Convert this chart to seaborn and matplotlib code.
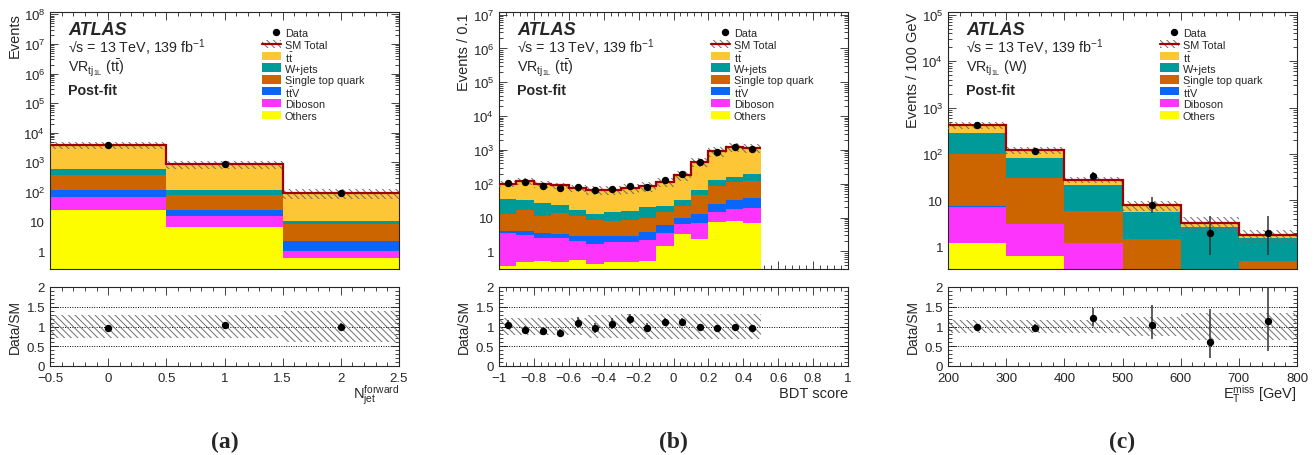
import numpy as np
import pandas as pd
import matplotlib
matplotlib.use("Agg")
import matplotlib.pyplot as plt
import seaborn as sns
from matplotlib.patches import Rectangle
from matplotlib.ticker import FixedLocator, MultipleLocator, LogLocator, NullFormatter, FuncFormatter

sns.set_style("ticks")
plt.rcParams['font.family'] = ['Liberation Sans', 'DejaVu Sans']
plt.rcParams['mathtext.fontset'] = 'custom'
plt.rcParams['mathtext.rm'] = 'Liberation Sans'
plt.rcParams['mathtext.it'] = 'Liberation Sans:italic'
plt.rcParams['mathtext.bf'] = 'Liberation Sans:bold'
plt.rcParams['hatch.linewidth'] = 0.7

# processes, top of the stack first
processes = ["ttbar", "W+jets", "Single top quark", "ttV", "Diboson", "Others"]
proc_labels = [r"$\mathrm{t\bar{t}}$", "W+jets", "Single top quark", r"$\mathrm{t\bar{t}V}$", "Diboson", "Others"]
proc_colors = ["#fdc636", "#009b98", "#cc6500", "#0a66fb", "#fd34fb", "#fdfd00"]

# (a) forward jet multiplicity
edges_a = [-0.5, 0.5, 1.5, 2.5]
ttbar_a = [3295, 729, 80.4]
wjets_a = [225, 39, 2.2]
stop_a = [262, 58, 6.2]
ttv_a = [51, 9.1, 1.15]
diboson_a = [42, 8.1, 0.47]
others_a = [25, 6.8, 0.58]
data_a = [3740, 875, 89]
unc_a = [0.28, 0.28, 0.38]

# (b) BDT score
edges_b = [-1.0, -0.9, -0.8, -0.7, -0.6, -0.5, -0.4, -0.3, -0.2, -0.1, 0.0, 0.1, 0.2, 0.3, 0.4, 0.5]
ttbar_b = [64, 88, 71, 65, 57, 53, 51, 57, 65, 93, 145, 380, 791, 1070, 952]
wjets_b = [23.4, 16, 15.7, 10.8, 6.2, 4.4, 7.3, 7.6, 10, 7.2, 11, 18, 41, 47, 76]
stop_b = [8.7, 13.1, 7.9, 10.0, 7.9, 5.4, 4.9, 5.6, 6.2, 8.7, 12, 33.4, 61, 80, 81]
ttv_b = [0.5, 0.9, 0.9, 0.8, 0.9, 1.15, 0.9, 0.95, 1.7, 2.5, 3.6, 5.8, 10.9, 15.3, 19]
diboson_b = [3.04, 2.53, 1.97, 1.9, 1.43, 1.23, 1.43, 1.38, 1.57, 2.2, 3.2, 4.5, 6.9, 9.7, 12.3]
others_b = [0.36, 0.47, 0.53, 0.5, 0.57, 0.42, 0.47, 0.47, 0.53, 1.4, 3.2, 2.3, 7.2, 8.0, 6.7]
data_b = [104, 111, 86, 74, 81, 63, 71, 86, 82, 127, 199, 440, 890, 1230, 1090]
unc_b = [0.22, 0.22, 0.22, 0.22, 0.22, 0.28, 0.28, 0.31, 0.31, 0.31, 0.31, 0.31, 0.31, 0.31, 0.31]

# (c) missing transverse momentum
edges_c = [200, 300, 400, 500, 600, 700, 800]
ttbar_c = [140, 39, 6.7, 2.2, 0.6, 0.22]
wjets_c = [180, 50, 15, 4.1, 2.3, 1.05]
stop_c = [93, 27.5, 4.8, 1.2, 0.25, 0.45]
ttv_c = [0.2, 0.1, 0.02, 0.02, 0.01, 0.01]
diboson_c = [6.0, 2.4, 0.98, 0.2, 0.05, 0.01]
others_c = [1.2, 0.64, 0.2, 0.05, 0.02, 0.01]
data_c = [415, 114, 34, 8, 2, 2]
unc_c = [0.16, 0.16, 0.16, 0.25, 0.33, 0.33]

palette = dict(zip(processes, proc_colors))
HATCH = "\\\\\\\\\\"
HATCH_COL = "#6e6e6e"
RED = "#a00000"


def fmt_num(v, pos):
    v = round(v, 4)
    if abs(v) < 1e-9:
        return "0"
    return f"{v:g}".replace("-", "\u2212")


def fmt_log(v, pos):
    if v <= 0:
        return ""
    e = int(round(np.log10(v)))
    if e == 0:
        return "1"
    if e == 1:
        return "10"
    return rf"$10^{{{e}}}$"


def style(ax):
    ax.tick_params(which="both", direction="in", top=True, right=True, labelsize=9.5, width=0.6)
    ax.tick_params(which="major", length=5.5)
    ax.tick_params(which="minor", length=3)
    for s in ax.spines.values():
        s.set_linewidth(0.8)


def draw_legend(ax):
    # rows placed by hand so every entry gets the same spacing
    x0, w, h = 0.607, 0.0545, 0.032
    xt = 0.673
    ys = [(270 - (33 + 11.85 * i)) / 257 for i in range(8)]
    ax.plot([0.648], [ys[0]], "o", color="black", ms=4.3, transform=ax.transAxes, clip_on=False)
    ax.add_patch(Rectangle((x0, ys[1] - h / 2), w, h, transform=ax.transAxes, facecolor="none",
                           edgecolor=HATCH_COL, hatch=HATCH, linewidth=0))
    ax.plot([x0, x0 + w], [ys[1], ys[1]], color=RED, lw=1.6, transform=ax.transAxes)
    names = ["Data", "SM Total"] + proc_labels
    for i, c in enumerate(proc_colors):
        ax.add_patch(Rectangle((x0, ys[i + 2] - h / 2), w, h, transform=ax.transAxes,
                               facecolor=c, edgecolor="none"))
    for y, name in zip(ys, names):
        ax.text(xt, y, name, transform=ax.transAxes, fontsize=7.8, va="center_baseline")


def draw_panel(ax, rax, edges, stack, data, unc, ylim, ylabel, xlabel, xlabel_y, region,
               xlim, xmaj, xmin):
    bin_edges = [float(e) for e in edges]
    edges = np.array(bin_edges)
    centers = (edges[:-1] + edges[1:]) / 2
    rows = []
    for proc, vals in zip(processes, stack):
        for c, v in zip(centers, vals):
            rows.append({"x": c, "w": v, "proc": proc})
    df = pd.DataFrame(rows)
    sns.histplot(data=df, x="x", weights="w", hue="proc", hue_order=processes, bins=bin_edges,
                 multiple="stack", element="step", palette=palette, alpha=1, linewidth=0,
                 legend=False, ax=ax)

    total = np.sum(np.array(stack, dtype=float), axis=0)
    unc = np.array(unc)
    data = np.array(data, dtype=float)
    ax.stairs(total * (1 + unc), edges, baseline=total * (1 - unc), fill=True,
              facecolor="none", edgecolor=HATCH_COL, hatch=HATCH, linewidth=0, zorder=3)
    ax.stairs(total, edges, baseline=None, color=RED, lw=1.6, zorder=4)

    err_lo = np.sqrt(np.clip(data - 0.25, 0, None))
    err_hi = 1 + np.sqrt(data + 0.75)
    ax.errorbar(centers, data, yerr=[err_lo, err_hi], fmt="o", color="black", ms=4.3,
                elinewidth=1.1, ecolor="#333333", capsize=0, zorder=5)

    ax.set_yscale("log")
    ax.set_ylim(*ylim)
    ax.set_xlim(*xlim)
    lo, hi = int(np.ceil(np.log10(ylim[0]))), int(np.floor(np.log10(ylim[1])))
    ax.yaxis.set_major_locator(FixedLocator([10.0 ** k for k in range(lo, hi + 1)]))
    ax.yaxis.set_major_formatter(FuncFormatter(fmt_log))
    ax.yaxis.set_minor_locator(LogLocator(base=10, subs=np.arange(2, 10), numticks=100))
    ax.yaxis.set_minor_formatter(NullFormatter())
    ax.xaxis.set_major_locator(MultipleLocator(xmaj))
    ax.xaxis.set_minor_locator(MultipleLocator(xmin))
    ax.tick_params(axis="x", labelbottom=False)
    ax.set_xlabel("")
    ax.set_ylabel(ylabel, loc="top", fontsize=10.5)
    ax.yaxis.set_label_coords(-0.08, 1.0)
    style(ax)

    # labels
    ax.text(0.052, 0.93, "ATLAS", transform=ax.transAxes, fontsize=13, fontweight="bold",
            fontstyle="italic", va="center")
    ax.text(0.052, 0.865, "\u221as = 13 TeV, 139 fb$^{-1}$", transform=ax.transAxes,
            fontsize=10.3, va="center")
    ax.text(0.052, 0.783, region, transform=ax.transAxes, fontsize=10.3, va="center")
    ax.text(0.052, 0.697, "Post-fit", transform=ax.transAxes, fontsize=10.3, fontweight="bold",
            va="center")
    draw_legend(ax)

    # ratio panel
    ratio = data / total
    rax.stairs(1 + unc, edges, baseline=1 - unc, fill=True, facecolor="none",
               edgecolor=HATCH_COL, hatch=HATCH, linewidth=0, zorder=2)
    for yv in [0.5, 1.0, 1.5]:
        rax.axhline(yv, color="black", ls=(0, (1, 1.5)), lw=0.7, zorder=1)
    rax.errorbar(centers, ratio, yerr=[err_lo / total, err_hi / total], fmt="o", color="black",
                 ms=4.3, elinewidth=1.1, ecolor="#333333", capsize=0, zorder=5)
    rax.set_xlim(*xlim)
    rax.set_ylim(0, 2)
    rax.yaxis.set_major_locator(MultipleLocator(0.5))
    rax.yaxis.set_minor_locator(MultipleLocator(0.1))
    rax.yaxis.set_major_formatter(FuncFormatter(fmt_num))
    rax.xaxis.set_major_locator(MultipleLocator(xmaj))
    rax.xaxis.set_minor_locator(MultipleLocator(xmin))
    rax.xaxis.set_major_formatter(FuncFormatter(fmt_num))
    style(rax)
    rax.tick_params(axis="x", pad=4)
    rax.set_ylabel("Data/SM", fontsize=10)
    rax.yaxis.set_label_coords(-0.08, 0.5)
    rax.set_xlabel(xlabel, loc="right", fontsize=10.5)
    rax.xaxis.set_label_coords(1.0, xlabel_y)


fig = plt.figure(figsize=(13.15, 4.56), dpi=100)
W, H = 1315, 456
lefts = [50, 499, 948]
width = 349
mains, ratios = [], []
for L in lefts:
    mains.append(fig.add_axes([L / W, 1 - 270 / H, width / W, 257 / H]))
    ratios.append(fig.add_axes([L / W, 1 - 367 / H, width / W, 79 / H]))

tj = r"$_{\mathrm{tj}_{\mathrm{1L}}}$"
draw_panel(mains[0], ratios[0], edges_a,
           [ttbar_a, wjets_a, stop_a, ttv_a, diboson_a, others_a], data_a, unc_a,
           (0.25, 1.2e8), "Events", r"N$_{\mathrm{jet}}^{\mathrm{forward}}$", -0.2,
           "VR" + tj + r" ($\mathrm{t\bar{t}}$)", (-0.5, 2.5), 0.5, 0.1)
draw_panel(mains[1], ratios[1], edges_b,
           [ttbar_b, wjets_b, stop_b, ttv_b, diboson_b, others_b], data_b, unc_b,
           (0.3, 1.2e7), "Events / 0.1", "BDT score", -0.255,
           "VR" + tj + r" ($\mathrm{t\bar{t}}$)", (-1, 1), 0.2, 0.04)
draw_panel(mains[2], ratios[2], edges_c,
           [ttbar_c, wjets_c, stop_c, ttv_c, diboson_c, others_c], data_c, unc_c,
           (0.33, 1.15e5), "Events / 100 GeV", r"E$_{\mathrm{T}}^{\mathrm{miss}}$ [GeV]", -0.2,
           "VR" + tj + " (W)", (200, 800), 100, 20)

for L, tag in zip(lefts, ["(a)", "(b)", "(c)"]):
    fig.text((L + width / 2) / W, 1 - 442 / H, tag, ha="center", va="center", fontsize=17,
             fontweight="bold", family=["Liberation Serif", "DejaVu Serif"])

fig.savefig("out.png", dpi=100, facecolor="white")
